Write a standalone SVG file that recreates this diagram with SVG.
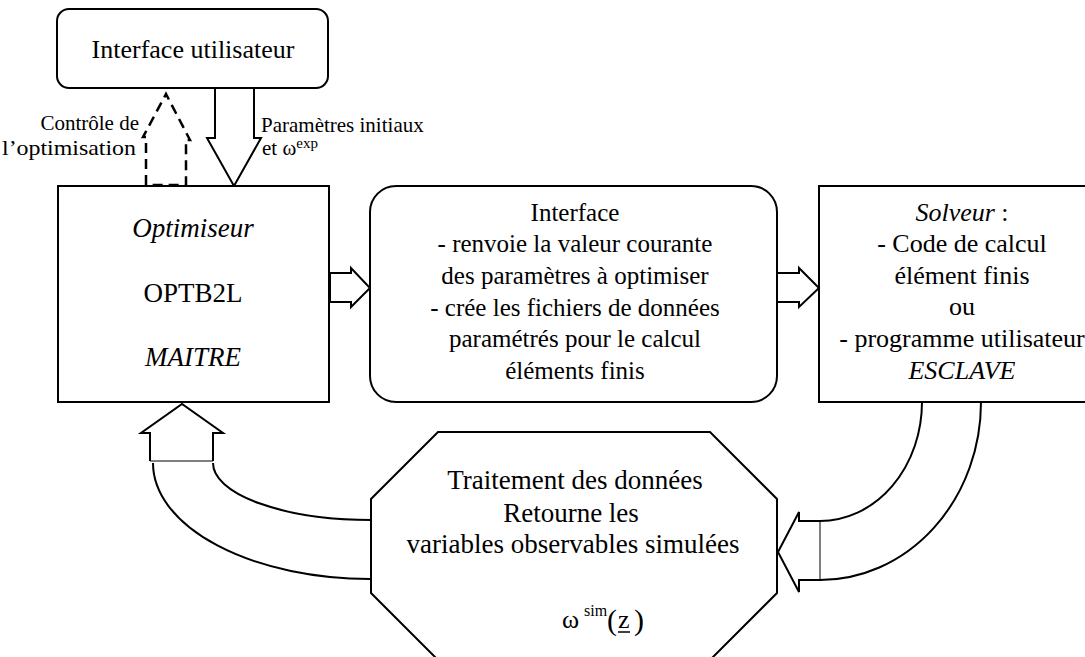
<svg xmlns="http://www.w3.org/2000/svg" width="1085" height="657" viewBox="0 0 1085 657">
<style>
text{font-family:"Liberation Serif","Times New Roman",Times,"DejaVu Serif",serif;fill:#000}
.b{fill:#fff;stroke:#000;stroke-width:2}
.t{font-size:26px;text-anchor:middle}
.t25{font-size:25px}
.t27{font-size:27px}
.s{font-size:21px}
.i{font-style:italic}
.a{fill:#fff;stroke:#000;stroke-width:2;stroke-linejoin:miter}
.c{fill:none;stroke:#000;stroke-width:2}
.thin{fill:none;stroke:#000;stroke-width:1}
</style>
<rect width="1085" height="657" fill="#fff"/>
<g id="connectors">
<polygon class="a" points="215,88 254,88 254,138 261,138 234,186 207,138 215,138"/>
<polygon points="146,185 146,137 143,137 166,94 190,140 186,140 186,185" fill="none" stroke="#000" stroke-width="2.5" stroke-dasharray="10,6"/>
<polygon class="a" points="330,273 351,273 351,268 370,288 351,307 351,302 330,302"/>
<polygon class="a" points="777,273 799,273 799,268 819,288 799,307 799,302 777,302"/>
<path class="c" d="M150,461 L150,433 L141,433 L182,404 L223,433 L213,433 L213,461"/>
<line class="thin" x1="150" y1="461" x2="213" y2="461"/>
<path class="c" d="M153,463 A217,116 0 0 0 371,579"/>
<path class="c" d="M213,463 A158,57 0 0 0 371,520"/>
<path class="c" d="M820,521 L799,521 L799,512 L778,552 L799,592 L799,580 L820,580"/>
<line class="thin" x1="820" y1="521" x2="820" y2="580"/>
<path class="c" d="M922,402 A102,119 0 0 1 820,521"/>
<path class="c" d="M981,402 A161,178 0 0 1 820,580"/>
</g>
<g id="interface-utilisateur">
<rect class="b" x="57" y="9" width="271" height="79" rx="12"/>
<text class="t" x="193" y="58" font-size="26.6">Interface utilisateur</text>
</g>
<g id="label-controle">
<text class="s" x="139" y="130" text-anchor="end" font-size="22.5">Contrôle de</text>
<text class="s" x="2" y="155" textLength="134" lengthAdjust="spacingAndGlyphs" font-size="22.5">l’optimisation</text>
</g>
<g id="label-parametres">
<text class="s" x="261" y="132">Paramètres initiaux</text>
<text class="s" x="262" y="155">et ω<tspan font-size="15" dy="-7">exp</tspan></text>
</g>
<g id="optimiseur">
<rect class="b" x="58" y="186" width="271" height="216"/>
<text class="t t27 i" x="193" y="237">Optimiseur</text>
<text class="t t27" x="193" y="302">OPTB2L</text>
<text class="t t27 i" x="193" y="366">MAITRE</text>
</g>
<g id="interface">
<rect class="b" x="370" y="186" width="407" height="216" rx="26"/>
<text class="t t25" x="575" y="221">Interface</text>
<text class="t t25" x="575" y="252">- renvoie la valeur courante</text>
<text class="t t25" x="575" y="284">des paramètres à optimiser</text>
<text class="t t25" x="575" y="316">- crée les fichiers de données</text>
<text class="t t25" x="575" y="347">paramétrés pour le calcul</text>
<text class="t t25" x="575" y="379">éléments finis</text>
</g>
<g id="solveur">
<rect class="b" x="819" y="186" width="290" height="216"/>
<text class="t" x="962" y="221"><tspan font-style="italic">Solveur</tspan> :</text>
<text class="t" x="962" y="252">- Code de calcul</text>
<text class="t" x="962" y="284">élément finis</text>
<text class="t" x="962" y="315">ou</text>
<text class="t" x="962" y="347">- programme utilisateur</text>
<text class="t i" x="962" y="379">ESCLAVE</text>
</g>
<g id="traitement">
<polygon class="b" points="438,432 710,432 777,499 777,593 710,660 438,660 371,593 371,499"/>
<text class="t t27" x="575" y="489">Traitement des données</text>
<text class="t t27" x="571" y="522">Retourne les</text>
<text class="t t27" x="573" y="553">variables observables simulées</text>
<text x="562" y="628" font-size="26">ω</text>
<text x="584" y="616" font-size="16">sim</text>
<text x="607" y="630" font-size="30">(</text>
<text x="618" y="628" font-size="26">z</text>
<line x1="618" y1="632" x2="630" y2="632" stroke="#000" stroke-width="1.5"/>
<text x="634" y="630" font-size="30">)</text>
</g>
</svg>
